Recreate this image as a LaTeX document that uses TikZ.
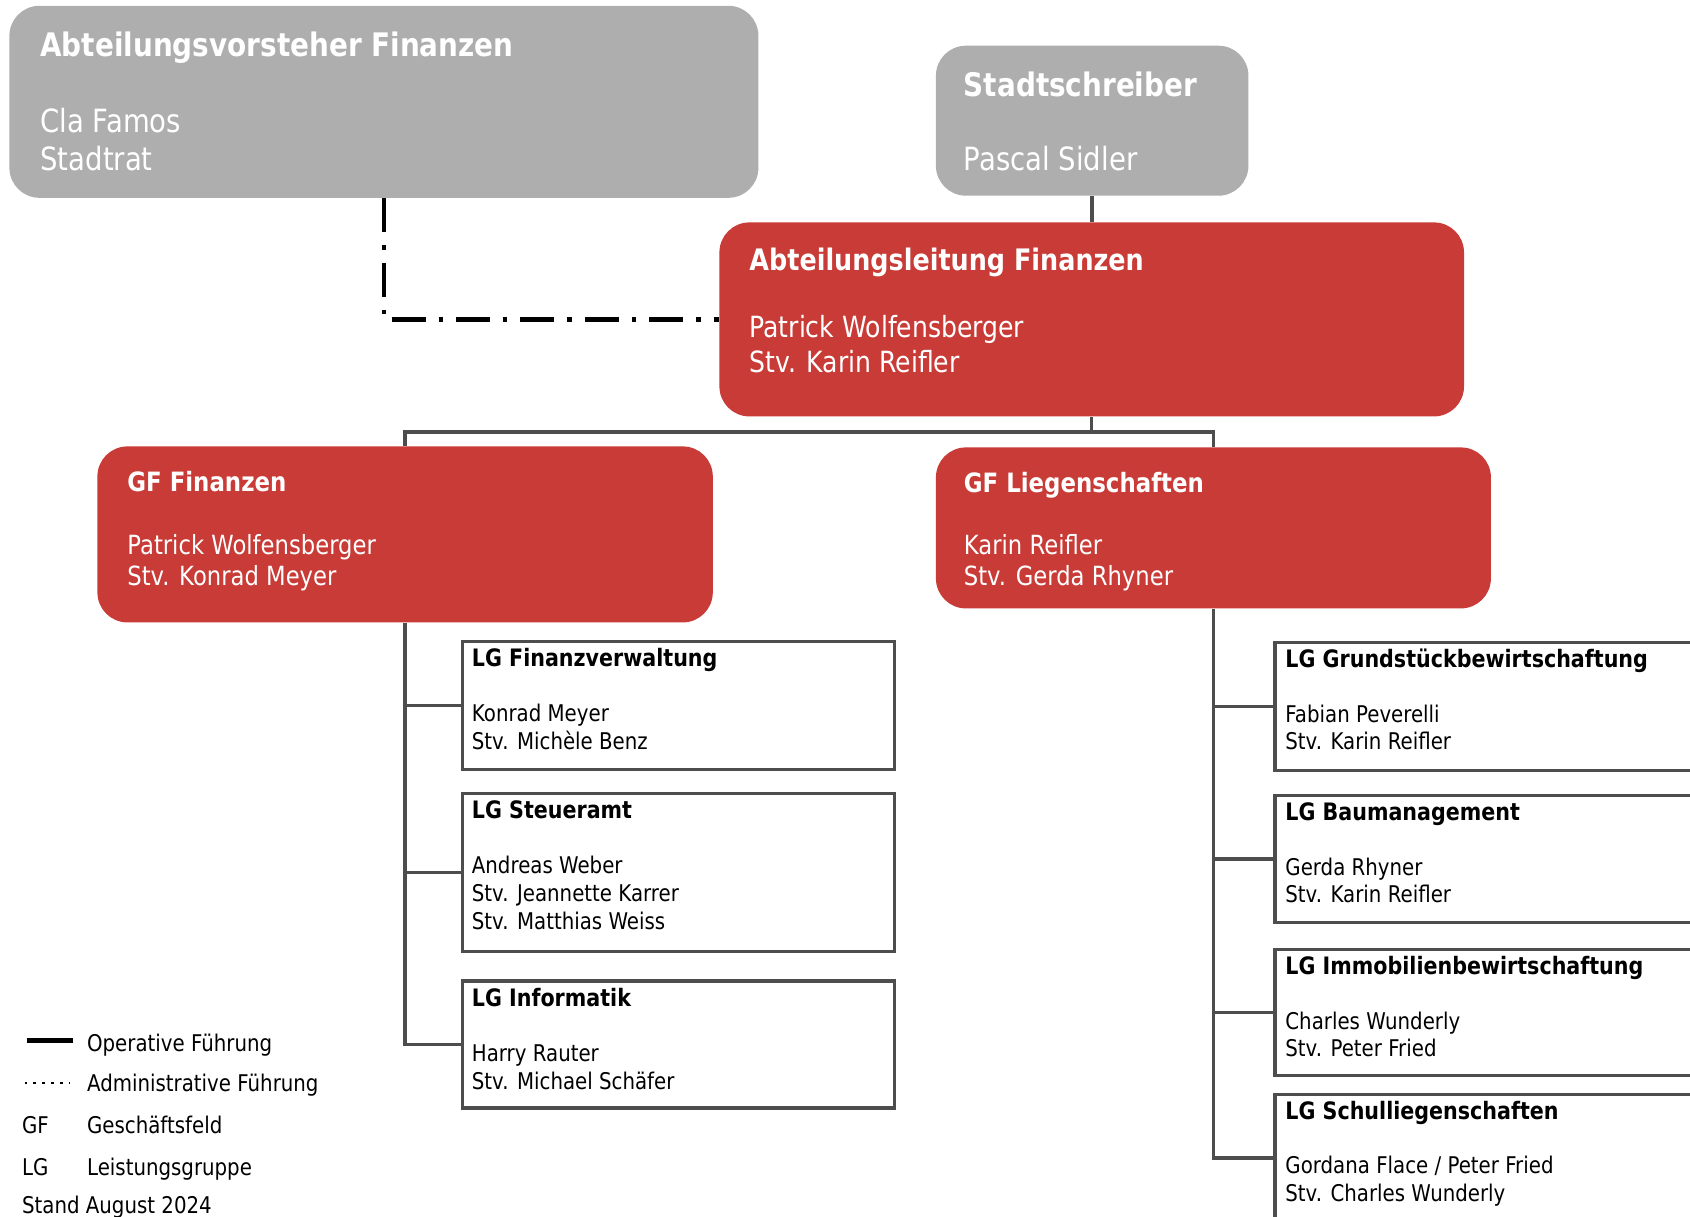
\documentclass[tikz,border=0pt]{standalone}
\usepackage{fontspec}
\newfontfamily\orgfont[FakeStretch=0.86]{DejaVu Sans}
\newcommand{\orgsize}[2]{\orgfont\fontsize{#1}{#2}\selectfont}
\definecolor{unitgray}{RGB}{174,174,174}
\definecolor{unitred}{RGB}{200,59,54}
\definecolor{linegray}{RGB}{77,77,77}
\begin{document}
\begin{tikzpicture}[x=0.5pt,y=-0.5pt,
    grayunit/.style={fill=unitgray,rounded corners=15pt,inner sep=0pt,anchor=north west},
    redunit/.style={fill=unitred,rounded corners=15pt,inner sep=0pt,anchor=north west},
    lgunit/.style={draw=linegray,line width=1.75pt,fill=white,inner sep=0pt,anchor=north west,minimum width=216pt},
    lgunitr/.style={lgunit,minimum width=223pt},
    headtext/.style={inner sep=0pt,anchor=base west,text=white},
    bodytext/.style={inner sep=0pt,anchor=base west,text=white,align=left},
    lgtitle/.style={inner sep=0pt,anchor=base west,font=\orgsize{12}{14}\bfseries},
    lgbody/.style={inner sep=0pt,anchor=base west,align=left,font=\orgsize{11.5}{13.9}},
    opline/.style={draw=linegray,line width=1.75pt},
    adminline/.style={draw=black,line width=2.25pt,dash pattern=on 17pt off 6.5pt on 2.2pt off 6.5pt},
    legendtext/.style={inner sep=0pt,anchor=base west,font=\orgsize{11.5}{13.9}}]
    \useasboundingbox (0,0) rectangle (1690,1216);

    % top level (body nodes sit on the baseline of their last line)
    \node[grayunit,minimum width=374.5pt,minimum height=96pt] (av) at (9,5.4) {};
    \node[headtext,font=\orgsize{16.2}{19}\bfseries] (av-title) at ([shift={(31,50.6)}]av.north west) {Abteilungsvorsteher Finanzen};
    \node[bodytext,font=\orgsize{16}{18.85}] (av-body) at ([shift={(31,165)}]av.north west) {Cla Famos\\Stadtrat};

    \node[grayunit,minimum width=156.25pt,minimum height=75pt] (ss) at (935.5,45.3) {};
    \node[headtext,font=\orgsize{16.2}{19}\bfseries] (ss-title) at ([shift={(28,50.7)}]ss.north west) {Stadtschreiber};
    \node[bodytext,font=\orgsize{16}{18.85}] (ss-body) at ([shift={(28,125)}]ss.north west) {Pascal Sidler};

    \node[redunit,minimum width=372.3pt,minimum height=97pt] (al) at (719,222) {};
    \node[headtext,font=\orgsize{14.8}{17.5}\bfseries] (al-title) at ([shift={(30,48.5)}]al.north west) {Abteilungsleitung Finanzen};
    \node[bodytext,font=\orgsize{14.6}{17.5}] (al-body) at ([shift={(30,150.7)}]al.north west) {Patrick Wolfensberger\\Stv. Karin Reifler};

    % Geschaeftsfelder
    \node[redunit,minimum width=307.7pt,minimum height=88pt] (gffin) at (97,446) {};
    \node[headtext,font=\orgsize{13.3}{15.5}\bfseries] (gffin-title) at ([shift={(30,45.5)}]gffin.north west) {GF Finanzen};
    \node[bodytext,font=\orgsize{13.2}{15.5}] (gffin-body) at ([shift={(30,139)}]gffin.north west) {Patrick Wolfensberger\\Stv. Konrad Meyer};

    \node[redunit,minimum width=277.5pt,minimum height=80.5pt] (gflieg) at (935.5,447) {};
    \node[headtext,font=\orgsize{13.3}{15.5}\bfseries] (gflieg-title) at ([shift={(28,45.5)}]gflieg.north west) {GF Liegenschaften};
    \node[bodytext,font=\orgsize{13.2}{15.5}] (gflieg-body) at ([shift={(28,138)}]gflieg.north west) {Karin Reifler\\Stv. Gerda Rhyner};

    % Leistungsgruppen Finanzen
    \node[lgunit,minimum height=64pt] (lgfv) at (460.5,639.75) {};
    \node[lgtitle] at ([shift={(11,27)}]lgfv.north west) {LG Finanzverwaltung};
    \node[lgbody] at ([shift={(11,109.8)}]lgfv.north west) {Konrad Meyer\\Stv. Michèle Benz};

    \node[lgunit,minimum height=79pt] (lgst) at (460.5,791.75) {};
    \node[lgtitle] at ([shift={(11,27)}]lgst.north west) {LG Steueramt};
    \node[lgbody] at ([shift={(11,137.6)}]lgst.north west) {Andreas Weber\\Stv. Jeannette Karrer\\Stv. Matthias Weiss};

    \node[lgunit,minimum height=63.5pt] (lginf) at (460.5,979.35) {};
    \node[lgtitle] at ([shift={(11,27)}]lginf.north west) {LG Informatik};
    \node[lgbody] at ([shift={(11,109.8)}]lginf.north west) {Harry Rauter\\Stv. Michael Schäfer};

    % Leistungsgruppen Liegenschaften
    \node[lgunitr,minimum height=64pt] (lggb) at (1273,640.75) {};
    \node[lgtitle] at ([shift={(12,27)}]lggb.north west) {LG Grundstückbewirtschaftung};
    \node[lgbody] at ([shift={(12,109.1)}]lggb.north west) {Fabian Peverelli\\Stv. Karin Reifler};

    \node[lgunitr,minimum height=63.5pt] (lgbm) at (1273,793.75) {};
    \node[lgtitle] at ([shift={(12,27)}]lgbm.north west) {LG Baumanagement};
    \node[lgbody] at ([shift={(12,109.1)}]lgbm.north west) {Gerda Rhyner\\Stv. Karin Reifler};

    \node[lgunitr,minimum height=63pt] (lgib) at (1273,947.75) {};
    \node[lgtitle] at ([shift={(12,27)}]lgib.north west) {LG Immobilienbewirtschaftung};
    \node[lgbody] at ([shift={(12,109.1)}]lgib.north west) {Charles Wunderly\\Stv. Peter Fried};

    \node[lgunitr,minimum height=63.5pt] (lgsl) at (1273,1092.5) {};
    \node[lgtitle] at ([shift={(12,27)}]lgsl.north west) {LG Schulliegenschaften};
    \node[lgbody] at ([shift={(12,109.1)}]lgsl.north west) {Gordana Flace / Peter Fried\\Stv. Charles Wunderly};

    % connectors
    \draw[adminline] (av.south) |- (al.west);
    \draw[opline] (ss.south) -- (ss.south |- al.north);
    \coordinate (alfork) at ([yshift=-7.5pt]al.south);
    \draw[opline] (al.south) -- (alfork);
    \draw[opline] (alfork) -| (gffin.north);
    \draw[opline] (alfork) -| (gflieg.north);
    \foreach \lg in {lgfv,lgst,lginf}
        \draw[opline] (gffin.south) |- (\lg.west);
    \foreach \lg in {lggb,lgbm,lgib,lgsl}
        \draw[opline] (gflieg.south) |- (\lg.west);

    % legend
    \coordinate (op-a) at (26.7,1040.5);
    \coordinate (op-b) at (72.7,1040.5);
    \draw[black,line width=2.5pt] (op-a) -- (op-b);
    \coordinate (ad-a) at (24.5,1083);
    \coordinate (ad-b) at (70,1083);
    \draw[black,line width=1.4pt,dash pattern=on 1.4pt off 3pt] (ad-a) -- (ad-b);
    \node[legendtext] (leg-op) at (86.7,1051.7) {Operative Führung};
    \node[legendtext] (leg-ad) at (86.7,1091.7) {Administrative Führung};
    \node[legendtext] (leg-gf) at (21.7,1133.3) {GF};
    \node[legendtext] (leg-gfx) at (86.7,1133.3) {Geschäftsfeld};
    \node[legendtext] (leg-lg) at (21.7,1175) {LG};
    \node[legendtext] (leg-lgx) at (86.7,1175) {Leistungsgruppe};
    \node[legendtext] (leg-stand) at (21.7,1213.3) {Stand August 2024};
\end{tikzpicture}
\end{document}
